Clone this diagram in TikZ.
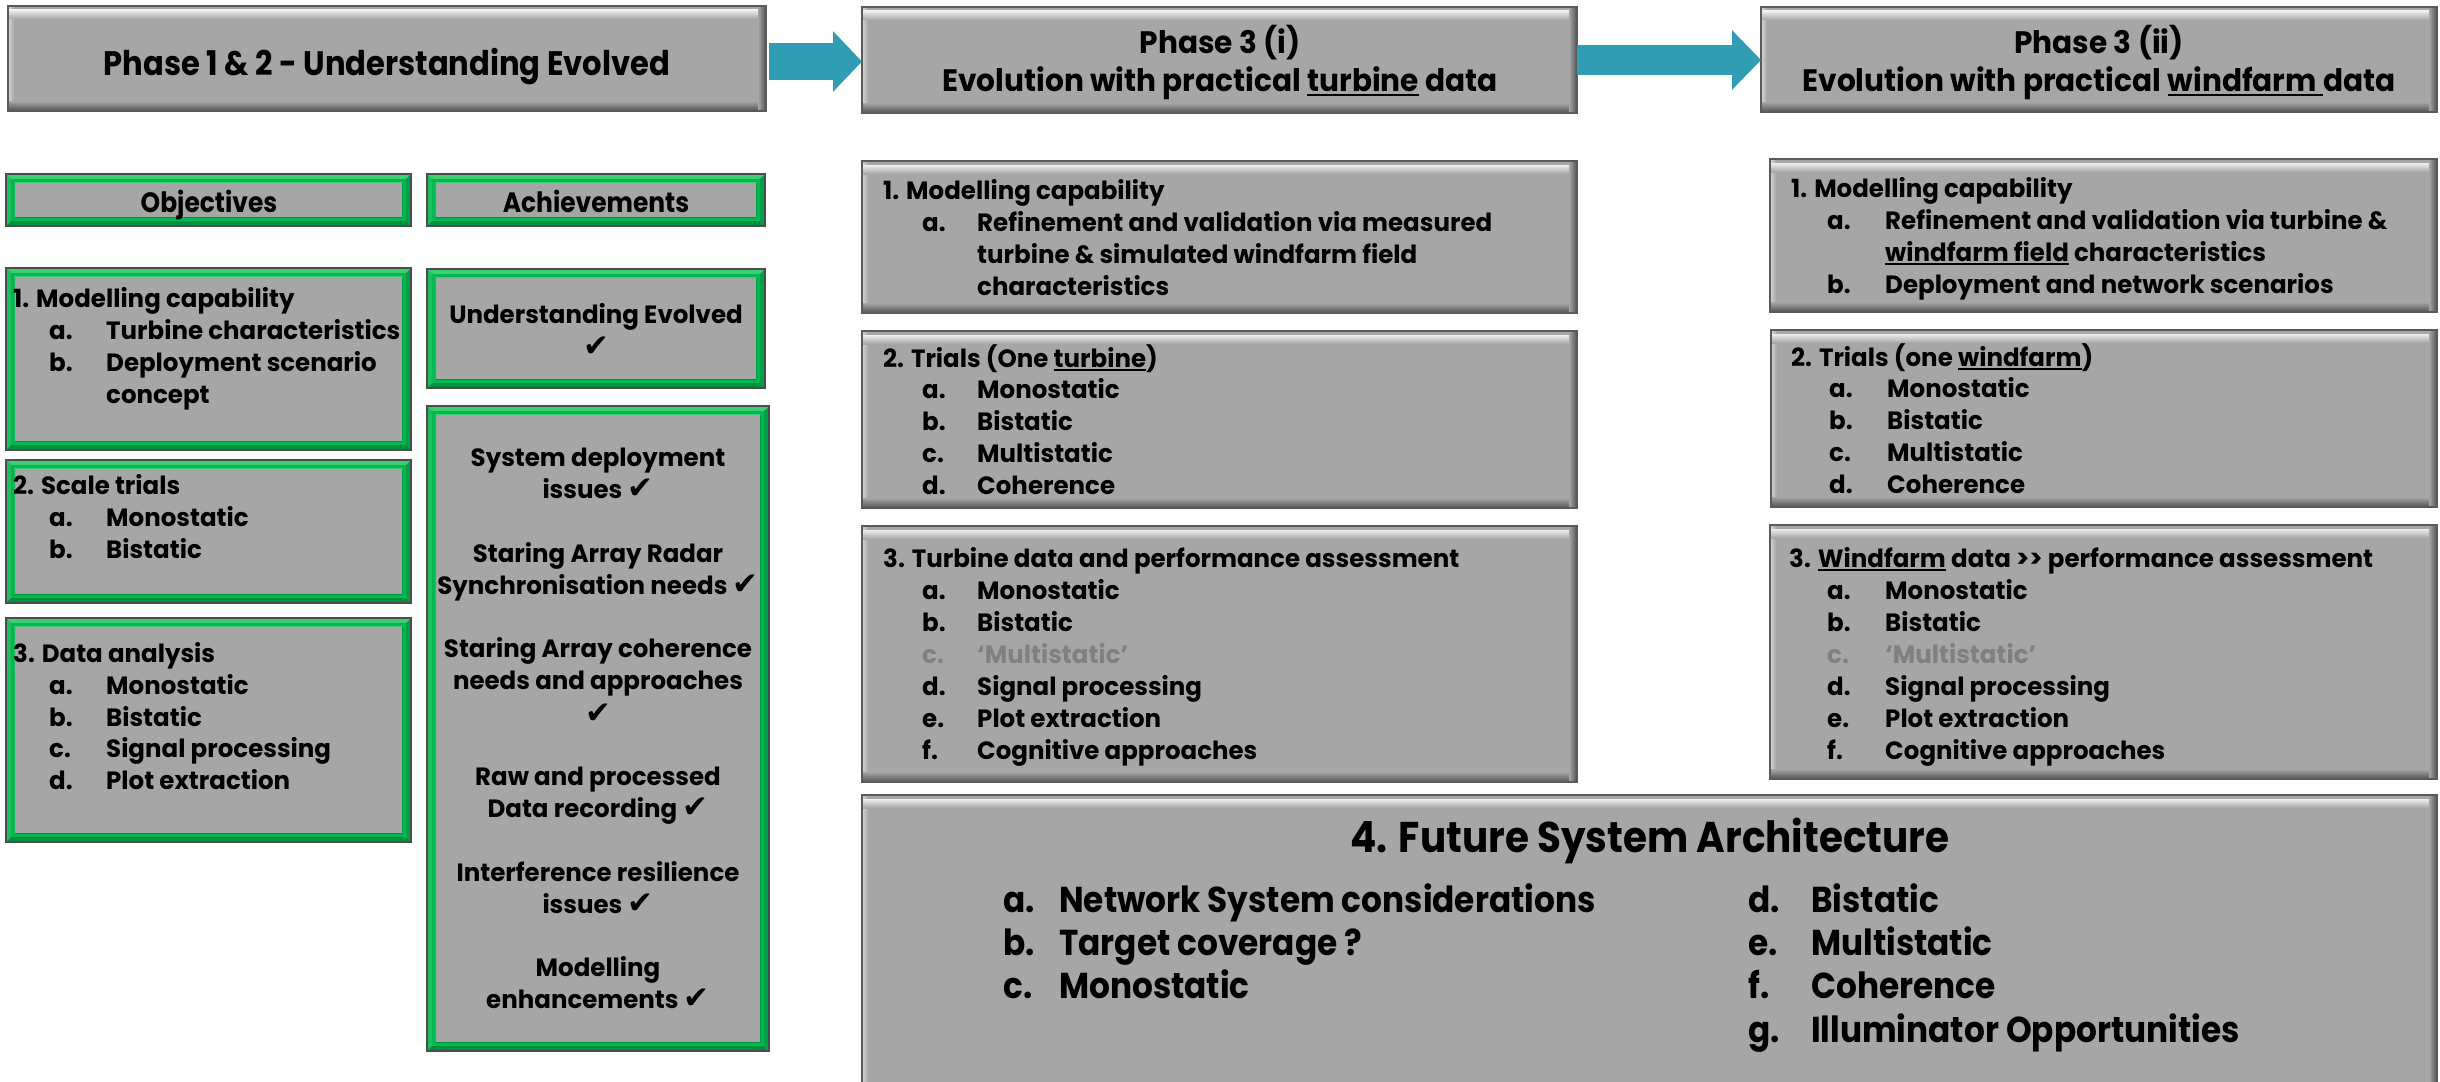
\documentclass[tikz,border=0pt]{standalone}
\usepackage{fontspec}
\newfontfamily\pf{Poppins}[FakeStretch=0.98]
\newfontfamily\pfA{Poppins}[FakeStretch=0.90]
\newfontfamily\pfB{Poppins}[FakeStretch=0.955]
\newfontfamily\pfC{Poppins}[FakeStretch=0.89]
\newfontfamily\pfE{Poppins}[FakeStretch=0.905]
\newfontfamily\pfD{Poppins}[FakeStretch=0.91]
\newfontfamily\symf{DejaVu Sans}
\usetikzlibrary{arrows.meta}
\definecolor{boxgray}{HTML}{A6A6A6}
\definecolor{edgegray}{HTML}{5A5A5A}
\definecolor{arrowblue}{HTML}{319DB5}
\definecolor{fadedtxt}{HTML}{808080}
\definecolor{grnA}{HTML}{3CD070}
\definecolor{grnB}{HTML}{1DBE5C}
\definecolor{grnC}{HTML}{00913F}
\definecolor{grnD}{HTML}{00A048}
\definecolor{grnM}{HTML}{00B850}
\newcommand\chk{{\symf\fontsize{31}{34}\selectfont ✔}}
\newcommand\ul[1]{\setbox0\hbox{#1}\rlap{\rule[-0.17em]{\wd0}{0.075em}}\box0\relax}
\newcounter{tn}
\newcommand\Tx[4][]{\stepcounter{tn}\node[txt,#1,anchor=base west] (t\arabic{tn}) at (#2,#3) {#4};}
\newcommand\Tc[4][]{\stepcounter{tn}\node[txt,#1,anchor=base] (t\arabic{tn}) at (#2,#3) {#4};}
\newcommand\It[6][]{\stepcounter{tn}\node[txt,#1,anchor=base west] (t\arabic{tn}) at (#2,#4) {#5};%
  \stepcounter{tn}\node[txt,#1,anchor=base west] (t\arabic{tn}) at (#3,#4) {#6};}
\newcommand\GBox[5]{%
  \node[gbox,anchor=north west,minimum width={#4-#2},minimum height={#5-#3}] (#1) at (#2,#3) {};
  \shade[left color=white!45!boxgray,right color=boxgray] (#2+1,#3+1) rectangle (#2+6,#5-1);
  \shade[top color=white!80!boxgray,bottom color=boxgray] (#2+1,#3+4) rectangle (#4-1,#3+13);
  \shade[top color=boxgray,bottom color=boxgray!55!black] (#2+1,#5-10) rectangle (#4-1,#5-1);
  \shade[left color=boxgray,right color=boxgray!55!black] (#4-8,#3+1) rectangle (#4-1,#5-1);
  \draw[edgegray,line width=2] (#1.north west) rectangle (#1.south east);}
\newcommand\GrBox[5]{%
  \node[gbox,anchor=north west,minimum width={#4-#2},minimum height={#5-#3}] (#1) at (#2,#3) {};
  \fill[grnA] (#2,#3) -- (#4,#3) -- (#4-9,#3+9) -- (#2+9,#3+9) -- cycle;
  \fill[grnB] (#2,#3) -- (#2+9,#3+9) -- (#2+9,#5-9) -- (#2,#5) -- cycle;
  \fill[grnC] (#2,#5) -- (#2+9,#5-9) -- (#4-9,#5-9) -- (#4,#5) -- cycle;
  \fill[grnD] (#4,#3) -- (#4-9,#3+9) -- (#4-9,#5-9) -- (#4,#5) -- cycle;
  \draw[grnM,line width=3] (#2+6.5,#3+6.5) rectangle (#4-6.5,#5-6.5);
  \draw[gray!60!black,line width=1.2] (#1.north west) rectangle (#1.south east);}
\begin{document}
\begin{tikzpicture}[x=1pt,y=-1pt,
  gbox/.style={fill=boxgray,inner sep=0pt,outer sep=0pt},
  txt/.style={inner sep=0pt,text=black,font=\pf\bfseries\fontsize{25}{30}\selectfont},
  ph12/.style={font=\pfA\bfseries\fontsize{34}{40}\selectfont},
  ph3/.style={font=\pfB\bfseries\fontsize{31}{36}\selectfont},
  hdr/.style={font=\pfC\bfseries\fontsize{28}{32}\selectfont},
  ftitle/.style={font=\pfE\bfseries\fontsize{43}{48}\selectfont},
  fitem/.style={font=\pfD\bfseries\fontsize{36}{40}\selectfont},
  faded/.style={text=fadedtxt}]
\useasboundingbox[fill=white] (0,0) rectangle (2440,1081);

% ---------- top row ----------
\GBox{ph12}{8}{6}{766}{111}
\GBox{ph3a}{862}{7}{1577}{113}
\GBox{ph3b}{1761}{7}{2437}{112}
\Tc[ph12]{387}{75}{Phase 1 \& 2 - Understanding Evolved}
\Tc[ph3]{1220}{53}{Phase 3 (i)}
\Tc[ph3]{1220}{91}{Evolution with practical \ul{turbine} data}
\Tc[ph3]{2099}{53}{Phase 3 (ii)}
\Tc[ph3]{2099}{91}{Evolution with practical \ul{windfarm }data}
\draw[arrowblue,line width=37pt,-{Triangle[length=29pt 0 0,width=59pt 0 0]}]
  ([xshift=3pt,yshift=-3pt]ph12.east) -- ([yshift=-3pt]ph12.east -| ph3a.west);
\draw[arrowblue,line width=29pt,-{Triangle[length=29pt 0 0,width=58pt 0 0]}]
  (ph3a.east) -- (ph3a.east -| ph3b.west);

% ---------- left column ----------
\GrBox{obj}{6}{174}{411}{226}
\GrBox{ach}{427}{174}{765}{226}
\Tc[hdr]{209}{212}{Objectives}
\Tc[hdr]{596}{212}{Achievements}
\GrBox{ob1}{6}{268}{411}{450}
\Tx{13}{307}{1. Modelling capability}
\It{49}{106}{339}{a.}{Turbine characteristics}
\It{49}{106}{371}{b.}{Deployment scenario}
\Tx{106}{403}{concept}
\GrBox{ob2}{6}{460}{411}{603}
\Tx{13}{494}{2. Scale trials}
\It{49}{106}{526}{a.}{Monostatic}
\It{49}{106}{558}{b.}{Bistatic}
\GrBox{ob3}{6}{618}{411}{842}
\Tx{13}{662}{3. Data analysis}
\It{49}{106}{694}{a.}{Monostatic}
\It{49}{106}{726}{b.}{Bistatic}
\It{49}{106}{757}{c.}{Signal processing}
\It{49}{106}{789}{d.}{Plot extraction}

\GrBox{ac1}{427}{269}{765}{388}
\Tc{596}{323}{Understanding Evolved}
\Tc{596}{356}{\chk}
\GrBox{ac2}{427}{406}{769}{1051}
\Tc{598}{466}{System deployment}
\Tc{598}{498}{issues \chk}
\Tc{598}{562}{Staring Array Radar}
\Tc{598}{594}{Synchronisation needs \chk}
\Tc{598}{657}{Staring Array coherence}
\Tc{598}{689}{needs and approaches}
\Tc{598}{723}{\chk}
\Tc{598}{785}{Raw and processed}
\Tc{598}{817}{Data recording \chk}
\Tc{598}{881}{Interference resilience}
\Tc{598}{913}{issues \chk}
\Tc{598}{976}{Modelling}
\Tc{598}{1008}{enhancements \chk}

% ---------- phase 3 (i) ----------
\GBox{m1}{862}{161}{1577}{313}
\Tx{883}{199}{1. Modelling capability}
\It{922}{977}{231}{a.}{Refinement and validation via measured}
\Tx{977}{263}{turbine \& simulated windfarm field}
\Tx{977}{295}{characteristics}
\GBox{m2}{862}{331}{1577}{508}
\Tx{883}{367}{2. Trials (One \ul{turbine})}
\It{922}{977}{398}{a.}{Monostatic}
\It{922}{977}{430}{b.}{Bistatic}
\It{922}{977}{462}{c.}{Multistatic}
\It{922}{977}{494}{d.}{Coherence}
\GBox{m3}{862}{526}{1577}{782}
\Tx{883}{567}{3. Turbine data and performance assessment}
\It{922}{977}{599}{a.}{Monostatic}
\It{922}{977}{631}{b.}{Bistatic}
\It[faded]{922}{977}{663}{c.}{‘Multistatic’}
\It{922}{977}{695}{d.}{Signal processing}
\It{922}{977}{727}{e.}{Plot extraction}
\It{922}{977}{759}{f.}{Cognitive approaches}

% ---------- phase 3 (ii) ----------
\GBox{w1}{1770}{159}{2437}{312}
\Tx{1791}{197}{1. Modelling capability}
\It{1827}{1885}{229}{a.}{Refinement and validation via turbine \&}
\Tx{1885}{261}{\ul{windfarm field} characteristics}
\It{1827}{1885}{293}{b.}{Deployment and network scenarios}
\GBox{w2}{1771}{330}{2437}{507}
\Tx{1791}{366}{2. Trials (one \ul{windfarm})}
\It{1829}{1887}{397}{a.}{Monostatic}
\It{1829}{1887}{429}{b.}{Bistatic}
\It{1829}{1887}{461}{c.}{Multistatic}
\It{1829}{1887}{493}{d.}{Coherence}
\GBox{w3}{1770}{525}{2437}{779}
\Tx{1789}{567}{3. \ul{Windfarm} data >{}> performance assessment}
\It{1827}{1885}{599}{a.}{Monostatic}
\It{1827}{1885}{631}{b.}{Bistatic}
\It[faded]{1827}{1885}{663}{c.}{‘Multistatic’}
\It{1827}{1885}{695}{d.}{Signal processing}
\It{1827}{1885}{727}{e.}{Plot extraction}
\It{1827}{1885}{759}{f.}{Cognitive approaches}

% ---------- future ----------
\GBox{fut}{862}{795}{2437}{1100}
\Tc[ftitle]{1650}{852}{4. Future System Architecture}
\It[fitem]{1003}{1059}{912}{a.}{Network System considerations}
\It[fitem]{1003}{1059}{955}{b.}{Target coverage ?}
\It[fitem]{1003}{1059}{998}{c.}{Monostatic}
\It[fitem]{1748}{1811}{912}{d.}{Bistatic}
\It[fitem]{1748}{1811}{955}{e.}{Multistatic}
\It[fitem]{1748}{1811}{998}{f.}{Coherence}
\It[fitem]{1748}{1811}{1042}{g.}{Illuminator Opportunities}
\end{tikzpicture}
\end{document}
